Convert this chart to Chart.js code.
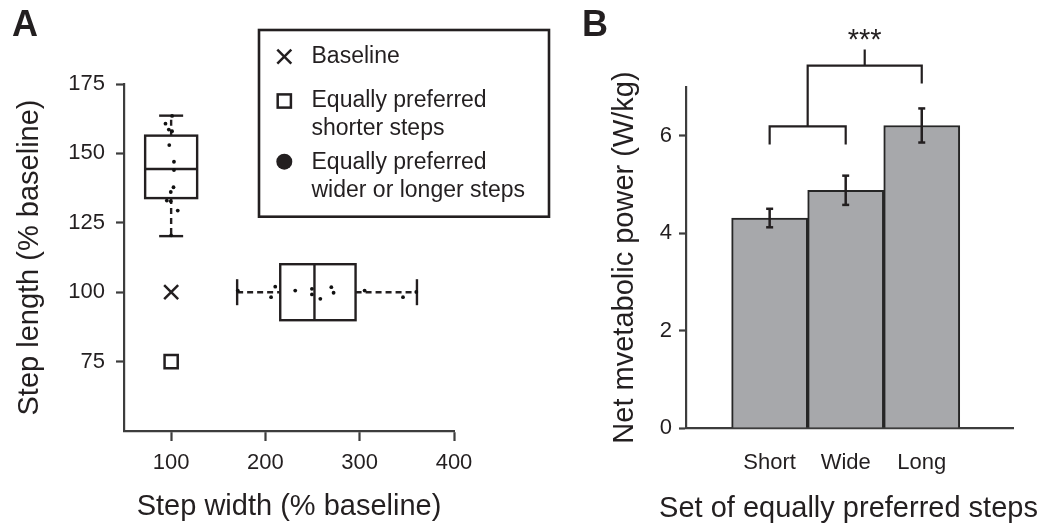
<!DOCTYPE html>
<html><head><meta charset="utf-8">
<script src="https://cdn.jsdelivr.net/npm/chart.js@4.4.1/dist/chart.umd.min.js"></script>
<style>
html,body{margin:0;padding:0;background:#fff;}
#wrap{position:relative;width:1045px;height:527px;overflow:hidden;}
#a{position:absolute;left:0;top:0;width:575px;height:527px;}
#b{position:absolute;left:575px;top:0;width:470px;height:527px;}
</style></head><body>
<div id="wrap"><div id="a"><canvas id="ca"></canvas></div><div id="b"><canvas id="cb"></canvas></div></div>
<script>
// ---------- Panel A data ----------
const xTicksA = [100, 200, 300, 400];
const yTicksA = [75, 100, 125, 150, 175];
const baselinePt = [{x: 100, y: 100}];
const shorterPt = [{x: 100, y: 75}];
const lengthDotsX = [101, 94, 97.5, 101, 98, 103, 103, 102.5, 99.6, 95.4, 99.6, 107, 100];
const lengthDotsY = [163.5, 160.7, 158.6, 158, 153, 147, 144, 137.8, 136.1, 133, 132.8, 129.4, 120.5];
const widthDotsX = [170.7, 210.4, 206, 231.6, 249.3, 249.3, 258.2, 269.9, 272.3, 305.2, 345.9, 360];
const widthDotsY = [100.6, 102, 98.2, 100.6, 101.2, 99.2, 97.6, 101.8, 99.8, 100.6, 98.2, 100.1];
const lengthBox = {x: 100, min: 120.2, q1: 133.9, med: 144.4, q3: 156.4, max: 163.6};
const widthBox = {y: 100, min: 170, q1: 215.7, med: 252, q3: 295.6, max: 360.7};
const legendMarkers = ['cross', 'square', 'dot'];
const legendLabels = [['Baseline'], ['Equally preferred', 'shorter steps'], ['Equally preferred', 'wider or longer steps']];

// ---------- Panel B data ----------
const barCats = ['Short', 'Wide', 'Long'];
const barMeans = [4.31, 4.88, 6.21];
const barErr = [0.19, 0.30, 0.35];
const yTicksB = [0, 2, 4, 6];
const bracketLow = [{x: 0, y: 5.82}, {x: 0, y: 6.19}, {x: 1, y: 6.19}, {x: 1, y: 5.82}];
const bracketHigh = [{x: 0.5, y: 6.19}, {x: 0.5, y: 7.44}, {x: 2, y: 7.44}, {x: 2, y: 7.07}];
const bracketTip = [{x: 1.25, y: 7.44}, {x: 1.25, y: 7.77}];
const sigMark = {text: '***', x: 1.25, y: 7.77};
const xTitleB = 'Set of equally preferred steps';

// ---------- styles ----------
const INK = '#231f20', AX = '#3d3d3d';
const FONT = "'Liberation Sans', Arial, Helvetica, sans-serif";
Chart.defaults.font.family = FONT;
Chart.defaults.color = INK;
const zip = (xs, ys) => xs.map((v, i) => ({x: v, y: ys[i]}));

function seg(ctx, x1, y1, x2, y2) { ctx.beginPath(); ctx.moveTo(x1, y1); ctx.lineTo(x2, y2); ctx.stroke(); }

const boxPlugin = {
  id: 'boxes',
  beforeDatasetsDraw(chart) {
    const {ctx, scales: {x, y}} = chart;
    ctx.save();
    ctx.strokeStyle = INK; ctx.lineWidth = 2.4; ctx.lineCap = 'butt';
    let b = lengthBox, c = x.getPixelForValue(b.x), hw = 26, cw = 12;
    const py = v => y.getPixelForValue(v), px = v => x.getPixelForValue(v);
    ctx.setLineDash([6, 4]);
    seg(ctx, c, py(b.q3), c, py(b.max));
    seg(ctx, c, py(b.q1), c, py(b.min));
    ctx.setLineDash([]);
    seg(ctx, c - cw, py(b.max), c + cw, py(b.max));
    seg(ctx, c - cw, py(b.min), c + cw, py(b.min));
    ctx.strokeRect(c - hw, py(b.q3), 2 * hw, py(b.q1) - py(b.q3));
    seg(ctx, c - hw, py(b.med), c + hw, py(b.med));
    b = widthBox; c = py(b.y); hw = 28; cw = 13;
    ctx.setLineDash([6, 4]);
    seg(ctx, px(b.min), c, px(b.q1), c);
    seg(ctx, px(b.q3), c, px(b.max), c);
    ctx.setLineDash([]);
    seg(ctx, px(b.min), c - cw, px(b.min), c + cw);
    seg(ctx, px(b.max), c - cw, px(b.max), c + cw);
    ctx.strokeRect(px(b.q1), c - hw, px(b.q3) - px(b.q1), 2 * hw);
    seg(ctx, px(b.med), c - hw, px(b.med), c + hw);
    ctx.restore();
  },
  afterDraw(chart) {
    const ctx = chart.ctx;
    ctx.save();
    ctx.fillStyle = INK;
    ctx.font = "bold 36px " + FONT;
    ctx.textBaseline = 'alphabetic';
    ctx.fillText('A', 12, 36);
    ctx.strokeStyle = INK; ctx.lineWidth = 2.6;
    ctx.strokeRect(259, 30, 290, 186.7);
    const mx = 284.3, my = [56.7, 101, 161.7];
    const base = [[63.3], [107.3, 135.3], [169, 197]];
    legendMarkers.forEach((m, i) => {
      ctx.lineWidth = 2.5;
      if (m === 'cross') {
        seg(ctx, mx - 7, my[i] - 7, mx + 7, my[i] + 7);
        seg(ctx, mx - 7, my[i] + 7, mx + 7, my[i] - 7);
      } else if (m === 'square') {
        ctx.strokeRect(mx - 6.6, my[i] - 6.6, 13.2, 13.2);
      } else {
        ctx.beginPath(); ctx.arc(mx, my[i], 8, 0, Math.PI * 2); ctx.fill();
      }
      ctx.font = "23px " + FONT;
      legendLabels[i].forEach((t, j) => ctx.fillText(t, 311.5, base[i][j]));
    });
    ctx.restore();
  }
};

new Chart(document.getElementById('ca'), {
  type: 'scatter',
  data: {
    datasets: [
      {label: 'Baseline', data: baselinePt, pointStyle: 'crossRot', pointRadius: 9.9, borderColor: INK, borderWidth: 2.5},
      {label: 'Equally preferred shorter steps', data: shorterPt, pointStyle: 'rect', pointRadius: 9.3, backgroundColor: '#fff', borderColor: INK, borderWidth: 2.5},
      {label: 'Step length points', data: zip(lengthDotsX, lengthDotsY), pointRadius: 1.9, backgroundColor: '#111', borderWidth: 0},
      {label: 'Step width points', data: zip(widthDotsX, widthDotsY), pointRadius: 1.9, backgroundColor: '#111', borderWidth: 0}
    ]
  },
  options: {
    responsive: true, maintainAspectRatio: false, animation: false,
    layout: {padding: {top: 84, right: 121, left: 0, bottom: 0}},
    plugins: {legend: {display: false}, tooltip: {enabled: false}},
    events: [],
    scales: {
      x: {
        type: 'linear', min: 50, max: 400,
        afterBuildTicks: s => { s.ticks = xTicksA.map(v => ({value: v})); },
        afterFit: s => { s.height = 96; },
        grid: {display: true, drawOnChartArea: false, drawTicks: true, tickLength: 10, tickColor: AX, tickWidth: 2.2},
        border: {display: true, color: AX, width: 2.2},
        ticks: {font: {size: 22}, color: INK, padding: 9, maxRotation: 0},
        title: {display: true, text: 'Step width (% baseline)', font: {size: 29}, color: INK, padding: {top: 0, bottom: 3}}
      },
      y: {
        type: 'linear', min: 50, max: 175,
        afterBuildTicks: s => { s.ticks = yTicksA.map(v => ({value: v})); },
        afterFit: s => { s.width = 124; },
        grid: {display: true, drawOnChartArea: false, drawTicks: true, tickLength: 8, tickColor: AX, tickWidth: 2.2},
        border: {display: true, color: AX, width: 2.2},
        ticks: {font: {size: 22}, color: INK, padding: 11},
        title: {display: true, text: 'Step length (% baseline)', font: {size: 29}, color: INK, padding: {top: 13, bottom: 0}}
      }
    }
  },
  plugins: [boxPlugin]
});

const barPlugin = {
  id: 'bextras',
  afterDatasetsDraw(chart) {
    const {ctx, scales: {x, y}} = chart;
    ctx.save();
    ctx.strokeStyle = INK; ctx.lineWidth = 2.5;
    barMeans.forEach((m, i) => {
      const c = x.getPixelForValue(i);
      const t = y.getPixelForValue(m + barErr[i]), b = y.getPixelForValue(m - barErr[i]);
      seg(ctx, c, t, c, b);
      seg(ctx, c - 3.5, t, c + 3.5, t);
      seg(ctx, c - 3.5, b, c + 3.5, b);
    });
    ctx.fillStyle = INK;
    ctx.font = "29px " + FONT;
    ctx.textAlign = 'center'; ctx.textBaseline = 'alphabetic';
    ctx.fillText(sigMark.text, x.getPixelForValue(sigMark.x), y.getPixelForValue(sigMark.y));
    ctx.restore();
  },
  afterDraw(chart) {
    const ctx = chart.ctx;
    const x = chart.scales.x;
    ctx.save();
    ctx.fillStyle = INK;
    ctx.font = "bold 36px " + FONT;
    ctx.textBaseline = 'alphabetic';
    ctx.textAlign = 'left';
    ctx.fillText('B', 7, 36);
    ctx.font = "29px " + FONT;
    ctx.textAlign = 'center';
    ctx.textBaseline = 'middle';
    ctx.fillText(xTitleB, (x.left + x.right) / 2 - 1, 509);
    ctx.restore();
  }
};

const lineDs = (d) => ({type: 'line', data: d, borderColor: INK, borderWidth: 2.2, pointRadius: 0, tension: 0, fill: false, clip: false});

new Chart(document.getElementById('cb'), {
  type: 'bar',
  data: {
    datasets: [
      {label: 'Net metabolic power', data: barMeans.map((v, i) => ({x: i, y: v})), backgroundColor: '#a7a8ab', borderColor: '#262626', borderWidth: 2, categoryPercentage: 1, barPercentage: 1},
      lineDs(bracketLow), lineDs(bracketHigh), lineDs(bracketTip)
    ]
  },
  options: {
    responsive: true, maintainAspectRatio: false, animation: false,
    layout: {padding: {top: 87, right: 32, left: 0, bottom: 0}},
    plugins: {legend: {display: false}, tooltip: {enabled: false}},
    events: [],
    scales: {
      x: {
        type: 'linear', min: -1.1, max: 3.2, offset: false,
        afterBuildTicks: s => { s.ticks = barCats.map((_, i) => ({value: i})); },
        afterFit: s => { s.height = 99; },
        grid: {display: false, drawTicks: false, offset: false},
        border: {display: true, color: AX, width: 2.2},
        ticks: {font: {size: 22}, color: INK, padding: 22, maxRotation: 0, autoSkip: false, callback: v => barCats[v]},
        title: {display: false}
      },
      y: {
        type: 'linear', min: 0, max: 7,
        afterBuildTicks: s => { s.ticks = yTicksB.map(v => ({value: v})); },
        afterFit: s => { s.width = 111; },
        grid: {display: true, drawOnChartArea: false, drawTicks: true, tickLength: 7, tickColor: AX, tickWidth: 2.2},
        border: {display: true, color: AX, width: 2.2},
        ticks: {font: {size: 22}, color: INK, padding: 7},
        title: {display: true, text: 'Net mvetabolic power (W/kg)', font: {size: 29}, color: INK, padding: {top: 33, bottom: 0}}
      }
    }
  },
  plugins: [barPlugin]
});
</script>
</body></html>
